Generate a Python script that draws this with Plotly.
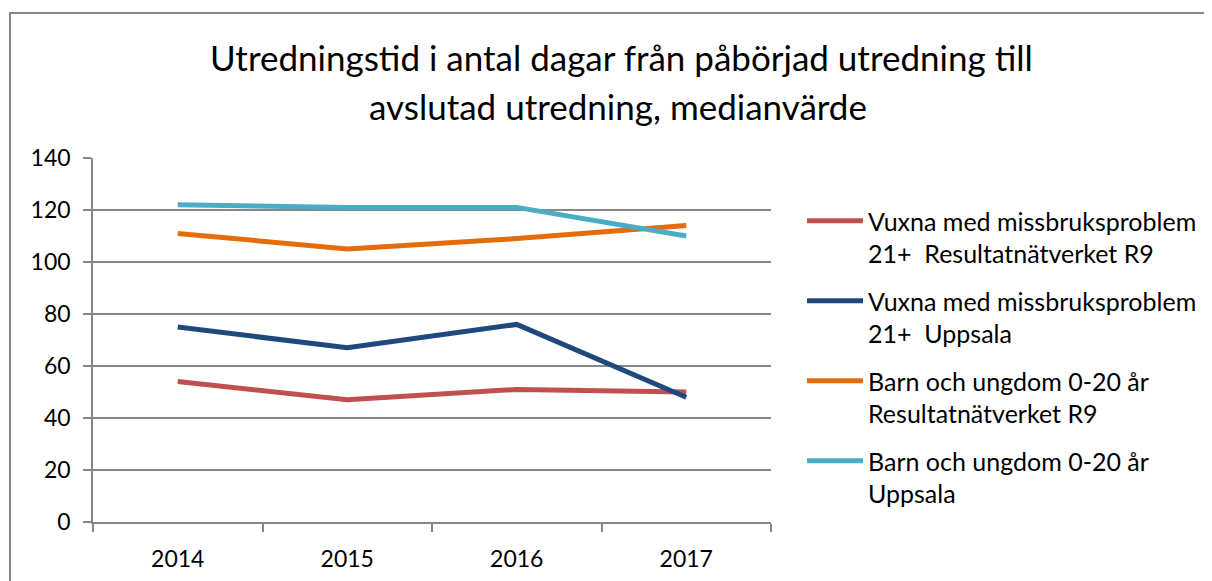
import plotly.graph_objects as go

years = ["2014", "2015", "2016", "2017"]
vuxna_r9 = [54, 47, 51, 50]
vuxna_uppsala = [75, 67, 76, 48]
barn_r9 = [111, 105, 109, 114]
barn_uppsala = [122, 121, 121, 110]

series_names = [
    "Vuxna med missbruksproblem<br>21+  Resultatnätverket R9",
    "Vuxna med missbruksproblem<br>21+  Uppsala",
    "Barn och ungdom 0-20 år<br>Resultatnätverket R9",
    "Barn och ungdom 0-20 år<br>Uppsala",
]
series_values = [vuxna_r9, vuxna_uppsala, barn_r9, barn_uppsala]
series_colors = ["#C0504D", "#1F497D", "#E46C0A", "#4BACC6"]

title_line1 = "Utredningstid i antal dagar från påbörjad utredning till"
title_line2 = "avslutad utredning, medianvärde"

FONT = "Lato"
GRID = "#868686"

fig = go.Figure()
for i, (name, vals, col) in enumerate(zip(series_names, series_values, series_colors)):
    fig.add_trace(go.Scatter(
        x=years, y=vals, name=name, mode="lines",
        line=dict(color=col, width=5),
        legendgroup=f"g{i}",
    ))

# page offset (browser body margin)
OFF = 8
W, H = 1212, 581
# plot area in page pixels: x 93..771, y 158..522
L = 93 - OFF
T = 158 - OFF
R = W - (771 - OFF)
B = H - (522 - OFF)
pw, ph = W - L - R, H - T - B

def px(x):
    return (x - OFF - L) / pw

def py(y):
    return (H - B - (y - OFF)) / ph

fig.update_layout(
    width=W, height=H,
    margin=dict(l=L, r=R, t=T, b=B, autoexpand=False),
    paper_bgcolor="white", plot_bgcolor="white",
    font=dict(family=FONT, color="#000000"),
    showlegend=True,
    legend=dict(
        x=px(802), y=py(198), xanchor="left", yanchor="top",
        font=dict(family=FONT, size=25, color="#000000"),
        itemwidth=56, valign="top", tracegroupgap=12,
        traceorder="grouped", bgcolor="rgba(0,0,0,0)",
    ),
    xaxis=dict(
        type="category", range=[-0.5, 3.5],
        showgrid=False, showline=True, linecolor=GRID, linewidth=1.5,
        ticks="outside", tickson="boundaries", ticklen=8, tickcolor=GRID, tickwidth=1.5,
        tickfont=dict(family=FONT, size=23, color="#000000"),
        ticklabelstandoff=16,
    ),
    yaxis=dict(
        range=[0, 140], dtick=20, tick0=0,
        showgrid=True, gridcolor=GRID, gridwidth=1.5,
        showline=True, linecolor=GRID, linewidth=1.5,
        ticks="outside", ticklen=8, tickcolor=GRID, tickwidth=1.5,
        tickfont=dict(family=FONT, size=23, color="#000000"),
        ticklabelstandoff=8, zeroline=False,
    ),
    annotations=[
        dict(text=title_line1, x=px(621), y=py(57), xref="paper", yref="paper",
             xanchor="center", yanchor="middle", showarrow=False,
             font=dict(family=FONT, size=35, color="#000000")),
        dict(text=title_line2, x=px(618), y=py(106), xref="paper", yref="paper",
             xanchor="center", yanchor="middle", showarrow=False,
             font=dict(family=FONT, size=35, color="#000000")),
    ],
    shapes=[
        dict(type="rect", xref="paper", yref="paper",
             x0=px(10), x1=px(1260), y0=py(13), y1=py(640),
             line=dict(color=GRID, width=2), fillcolor="rgba(0,0,0,0)", layer="below"),
    ],
)

fig.write_html("out.html")
